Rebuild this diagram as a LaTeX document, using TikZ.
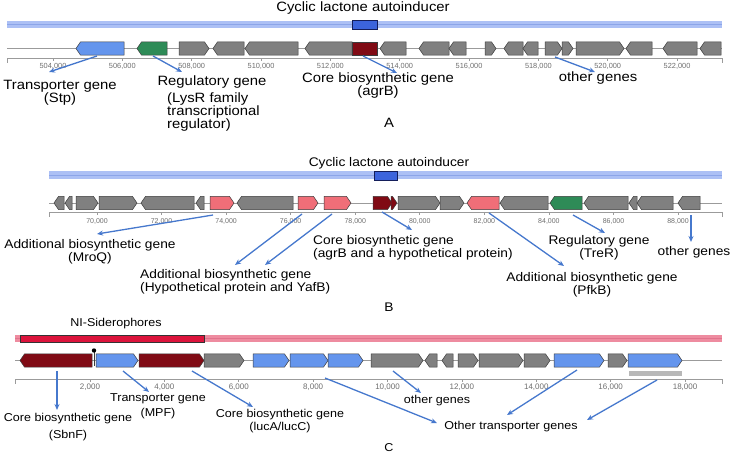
\documentclass[tikz,border=0pt]{standalone}
\usepackage{fontspec}
\setmainfont{Liberation Sans}[FakeStretch=1.1]
\newfontfamily\tickfont{Liberation Sans}
\usetikzlibrary{arrows.meta}
\definecolor{gblue}{RGB}{100,149,237}
\definecolor{ggreen}{RGB}{46,139,87}
\definecolor{ggray}{RGB}{128,128,128}
\definecolor{gdred}{RGB}{128,10,20}
\definecolor{gpink}{RGB}{240,110,120}
\definecolor{gedge}{RGB}{60,60,60}
\definecolor{bandblue}{RGB}{172,192,245}
\definecolor{bandblueline}{RGB}{140,165,232}
\definecolor{coreblue}{RGB}{60,100,220}
\definecolor{coreedge}{RGB}{20,30,90}
\definecolor{bandpink}{RGB}{238,140,160}
\definecolor{bandpinkline}{RGB}{225,115,140}
\definecolor{corered}{RGB}{220,20,60}
\definecolor{arrblue}{RGB}{70,120,205}
\definecolor{axgray}{RGB}{155,155,155}
\definecolor{ticktext}{RGB}{110,110,110}
\newcommand\geneR[4]{\filldraw[genebox,fill=#4] (#1,#3-6.6) -- ({max(#1,#2-4.5)},#3-6.6) -- (#2,#3) -- ({max(#1,#2-4.5)},#3+6.6) -- (#1,#3+6.6) -- cycle;}
\newcommand\geneL[4]{\filldraw[genebox,fill=#4] (#2,#3-6.6) -- ({min(#2,#1+4.5)},#3-6.6) -- (#1,#3) -- ({min(#2,#1+4.5)},#3+6.6) -- (#2,#3+6.6) -- cycle;}
\newcommand\geneBox[4]{\filldraw[genebox,fill=#4] (#1,#3-6.6) rectangle (#2,#3+6.6);}
\tikzset{
  lblA/.style={font=\fontsize{13.5}{13}\selectfont, inner sep=0pt, align=center},
  lblB/.style={font=\fontsize{12.5}{13}\selectfont, inner sep=0pt, align=center},
  lblC/.style={font=\fontsize{11.4}{13}\selectfont, inner sep=0pt, align=center},
  tickA/.style={font=\tickfont\fontsize{7.4}{8}\selectfont, text=ticktext, inner sep=0pt},
  tickB/.style={font=\tickfont\fontsize{7.0}{8}\selectfont, text=ticktext, inner sep=0pt},
  tickC/.style={font=\tickfont\fontsize{8.0}{8}\selectfont, text=ticktext, inner sep=0pt},
  ptr/.style={draw=arrblue, line width=1.3pt, -{Stealth[length=6pt,width=5pt]}},
  genebox/.style={draw=gedge, line width=0.5pt},
  trackline/.style={draw=axgray, line width=0.7pt},
}
\begin{document}
\begin{tikzpicture}[x=1pt,y=-1pt]
\useasboundingbox (0,0) rectangle (731,458);
% ================= Panel A =================
\node[lblA] (titleA) at (363,8) {Cyclic lactone autoinducer};
\fill[bandblue] (7,21) rectangle (722,28);
\draw[bandblueline,line width=1pt] (7,24.5) -- (722,24.5);
\filldraw[fill=coreblue,draw=coreedge,line width=0.6pt] (352,20) rectangle (377,29);
\draw[trackline] (7,48.5) -- (722,48.5);
\geneL{76}{124}{48.5}{gblue}
\geneL{137}{167}{48.5}{ggreen}
\geneR{179}{209}{48.5}{ggray}
\geneL{213}{244}{48.5}{ggray}
\geneL{245}{298}{48.5}{ggray}
\geneL{305}{352}{48.5}{ggray}
\geneBox{352}{377}{48.5}{gdred}
\geneL{380}{406}{48.5}{ggray}
\geneL{419}{449}{48.5}{ggray}
\geneL{449}{466}{48.5}{ggray}
\geneR{485}{496}{48.5}{ggray}
\geneL{504}{523}{48.5}{ggray}
\geneL{523}{538}{48.5}{ggray}
\geneR{545}{562}{48.5}{ggray}
\geneR{562}{573}{48.5}{ggray}
\geneR{576}{624}{48.5}{ggray}
\geneL{626}{652}{48.5}{ggray}
\geneL{663}{697}{48.5}{ggray}
\geneL{700}{721}{48.5}{ggray}
\draw[trackline] (7,58) -- (722,58);
\draw[trackline] (7,58) -- (7,63) (722,58) -- (722,63);
\foreach \k in {504,506,...,522}{
  \draw[trackline] ({53+(\k-504)*34.67},58) -- ++(0,3);
  \node[tickA] (tA\k) at ({53+(\k-504)*34.67},66) {\k,000};
}
\node[lblA] (stpA) at (60,93) {Transporter gene\\(Stp)};
\node[lblA] (regA) at (212,82) {Regulatory gene};
\node[lblA,anchor=north west,align=left] (lysA) at (167,92.5) {(LysR family\\transcriptional\\regulator)};
\node[lblA] (agrA) at (378,86) {Core biosynthetic gene\\(agrB)};
\node[lblA] (othA) at (598,78) {other genes};
\node[lblA] (labA) at (389,123) {A};
\coordinate (a1s) at (97,56);  \coordinate (a1e) at (49,72);
\coordinate (a2s) at (153,56); \coordinate (a2e) at (182,72);
\coordinate (a3s) at (363,56); \coordinate (a3e) at (397,73);
\coordinate (a4s) at (555,57); \coordinate (a4e) at (595,72);
\foreach \i in {1,...,4}{\draw[ptr] (a\i s) -- (a\i e);}
% ================= Panel B =================
\node[lblB] (titleB) at (389,163) {Cyclic lactone autoinducer};
\fill[bandblue] (49,171) rectangle (722,179);
\draw[bandblueline,line width=1pt] (49,175) -- (722,175);
\filldraw[fill=coreblue,draw=coreedge,line width=0.6pt] (374,171) rectangle (397,180);
\draw[trackline] (49,203) -- (722,203);
\geneL{54}{64}{203}{ggray}
\geneL{65}{72}{203}{ggray}
\geneR{76}{98}{203}{ggray}
\geneR{99}{137}{203}{ggray}
\geneL{141}{194}{203}{ggray}
\geneL{196}{204}{203}{ggray}
\geneR{210}{234}{203}{gpink}
\geneL{237}{293}{203}{ggray}
\geneR{298}{318}{203}{gpink}
\geneR{324}{351}{203}{gpink}
\geneR{373}{392}{203}{gdred}
\geneR{391}{397}{203}{gdred}
\geneR{398}{440}{203}{ggray}
\geneR{440}{464}{203}{ggray}
\geneL{467}{499}{203}{gpink}
\geneL{500}{548}{203}{ggray}
\geneL{550}{582}{203}{ggreen}
\geneL{584}{628}{203}{ggray}
\geneL{629}{637}{203}{ggray}
\geneL{637}{673}{203}{ggray}
\geneL{678}{700}{203}{ggray}
\draw[trackline] (49,212) -- (722,212);
\draw[trackline] (49,212) -- (49,217) (722,212) -- (722,217);
\foreach \k in {70,72,...,88}{
  \draw[trackline] ({97+(\k-70)*32.28},212) -- ++(0,3);
  \node[tickB] (tB\k) at ({97+(\k-70)*32.28},222) {\k,000};
}
\node[lblB] (mroB) at (90,251.5) {Additional biosynthetic gene\\(MroQ)};
\node[lblB,anchor=west,align=left] (yafB) at (140,281.5) {Additional biosynthetic gene\\(Hypothetical protein and YafB)};
\node[lblB,anchor=west,align=left] (agrBB) at (313,247.5) {Core biosynthetic gene\\(agrB and a hypothetical protein)};
\node[lblB] (pfkB) at (592,284.5) {Additional biosynthetic gene\\(PfkB)};
\node[lblB] (treB) at (599,247.5) {Regulatory gene\\(TreR)};
\node[lblB] (othB) at (694,252) {other genes};
\node[lblB] (labB) at (389,307) {B};
\coordinate (b1s) at (213,215); \coordinate (b1e) at (97,234);
\coordinate (b2s) at (302,214); \coordinate (b2e) at (235,265);
\coordinate (b3s) at (332,214); \coordinate (b3e) at (265,265);
\coordinate (b4s) at (382,212); \coordinate (b4e) at (412,230);
\coordinate (b5s) at (489,213); \coordinate (b5e) at (564,266);
\coordinate (b6s) at (573,215); \coordinate (b6e) at (605,233);
\coordinate (b7s) at (691,215); \coordinate (b7e) at (691,242);
\foreach \i in {1,...,7}{\draw[ptr] (b\i s) -- (b\i e);}
% ================= Panel C =================
\node[lblC] (titleC) at (116,324) {NI-Siderophores};
\fill[bandpink] (15,335) rectangle (722,342);
\draw[bandpinkline,line width=1pt] (15,338.5) -- (722,338.5);
\filldraw[fill=corered,draw=black!80,line width=0.6pt] (20,335) rectangle (204,342);
\draw[trackline] (15,360.5) -- (722,360.5);
\geneL{20}{92}{360.5}{gdred}
\geneR{96}{138}{360.5}{gblue}
\geneR{139}{204}{360.5}{gdred}
\geneR{204}{244}{360.5}{ggray}
\geneR{253}{289}{360.5}{gblue}
\geneR{290}{328}{360.5}{gblue}
\geneR{328}{363}{360.5}{gblue}
\geneR{371}{423}{360.5}{ggray}
\geneL{425}{437}{360.5}{ggray}
\geneL{442}{453}{360.5}{ggray}
\geneR{458}{478}{360.5}{ggray}
\geneR{479}{523}{360.5}{ggray}
\geneR{524}{550}{360.5}{ggray}
\geneR{554}{604}{360.5}{gblue}
\geneR{608}{627}{360.5}{ggray}
\geneR{628}{682}{360.5}{gblue}
\coordinate (lolA) at (94,366);
\coordinate (lolB) at (94,350.5);
\draw[gedge,line width=0.8pt] (lolA) -- (lolB);
\fill[black] (lolB) circle (2.2);
\fill[black!28] (629,371) rectangle (682,375.5);
\draw[trackline] (15,379) -- (722,379);
\draw[trackline] (15,379) -- (15,384) (722,379) -- (722,384);
\foreach \k in {2,4,...,18}{
  \draw[trackline] ({90+(\k-2)*37.19},379) -- ++(0,3);
  \node[tickC] (tC\k) at ({90+(\k-2)*37.19},387.5) {\k,000};
}
\node[lblC] (sbnC) at (68,427.5) {Core biosynthetic gene\\[4pt](SbnF)};
\node[lblC] (mpfC) at (158,406.5) {Transporter gene\\[2pt](MPF)};
\node[lblC] (lucC) at (280,421.5) {Core biosynthetic gene\\(lucA/lucC)};
\node[lblC] (othC) at (437,401) {other genes};
\node[lblC] (trC) at (511,427) {Other transporter genes};
\node[lblC] (labC) at (389,448) {C};
\coordinate (c1s) at (57,371);  \coordinate (c1e) at (57,410);
\coordinate (c2s) at (123,371); \coordinate (c2e) at (149,392);
\coordinate (c3s) at (192,371); \coordinate (c3e) at (253,407);
\coordinate (c4s) at (393,371); \coordinate (c4e) at (421,393);
\coordinate (c5s) at (325,378); \coordinate (c5e) at (437,423);
\coordinate (c6s) at (577,370); \coordinate (c6e) at (507,415);
\coordinate (c7s) at (657,380); \coordinate (c7e) at (587,420);
\foreach \i in {1,...,7}{\draw[ptr] (c\i s) -- (c\i e);}
\end{tikzpicture}
\end{document}
